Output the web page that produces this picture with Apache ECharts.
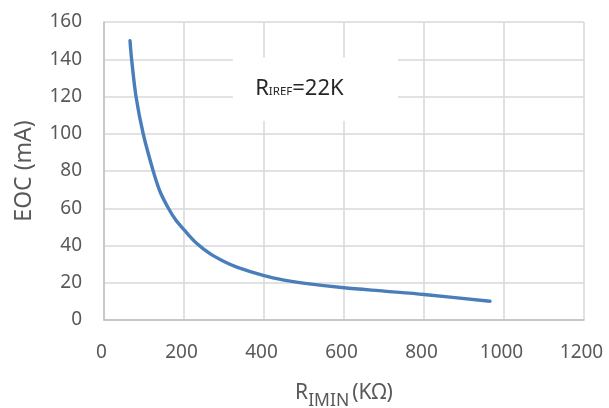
<!DOCTYPE html>
<html>
<head>
<meta charset="utf-8">
<script src="https://cdn.jsdelivr.net/npm/echarts@6/dist/echarts.min.js"></script>
<style>
html,body{margin:0;padding:0;background:#fff;}
#chart{width:609px;height:408px;}
</style>
</head>
<body>
<div id="chart"></div>
<script>
// R_IMIN (kΩ)
var rimin = [65, 69, 80, 98, 123, 140, 161, 180, 200, 230, 265, 300, 332, 400, 450, 498, 600, 700, 800, 965];
// EOC (mA)
var eoc = [150, 140, 120, 100, 80, 69, 60, 53.5, 48.5, 41.5, 35.6, 31.4, 28.4, 23.8, 21.4, 19.8, 17.3, 15.5, 13.7, 10.1];
var xTicks = {min: 0, max: 1200, step: 200};
var yTicks = {min: 0, max: 160, step: 20};
// annotation box (data coordinates)
var noteBox = [[322, 141], [735, 107]];
var noteText = ['R', 'IREF', '=22K'];

var data = rimin.map(function (x, i) { return [x, eoc[i]]; });
var chart = echarts.init(document.getElementById('chart'), null, {renderer: 'canvas'});
var font = 'Noto Sans';
chart.setOption({
  animation: false,
  backgroundColor: '#ffffff',
  grid: {left: 104, right: 25, top: 22, bottom: 88, containLabel: false, outerBoundsMode: 'none'},
  xAxis: {
    type: 'value', min: xTicks.min, max: xTicks.max, interval: xTicks.step,
    axisLine: {show: true, lineStyle: {color: '#bfbfbf', width: 1.5}},
    axisTick: {show: false},
    splitLine: {show: true, lineStyle: {color: '#d9d9d9', width: 1.5}},
    axisLabel: {color: '#595959', fontSize: 19, fontFamily: font, margin: 23,
      padding: [0, 5, 0, 0],
      formatter: function (v) { return String(v); }},
    name: '{a|R}{b|IMIN}{a|(KΩ)}',
    nameLocation: 'middle', nameGap: 56,
    nameTextStyle: {
      color: '#595959', fontFamily: font,
      rich: {
        a: {fontSize: 21, fontFamily: font, color: '#595959', lineHeight: 25},
        b: {fontSize: 17.5, fontFamily: font, color: '#595959', padding: [16, 3, 0, 0]}
      }
    }
  },
  yAxis: {
    type: 'value', min: yTicks.min, max: yTicks.max, interval: yTicks.step,
    axisLine: {show: true, lineStyle: {color: '#bfbfbf', width: 1.5}},
    axisTick: {show: false},
    splitLine: {show: true, lineStyle: {color: '#d9d9d9', width: 1.5}},
    axisLabel: {color: '#595959', fontSize: 19, fontFamily: font, margin: 22},
    name: 'EOC (mA)', nameLocation: 'middle', nameGap: 68,
    nameTextStyle: {color: '#595959', fontSize: 23, fontFamily: font}
  },
  series: [{
    type: 'line',
    data: data,
    smooth: 0.3,
    symbol: 'none',
    lineStyle: {color: '#4a7ebb', width: 3.4, cap: 'round'},
    markArea: {
      silent: true,
      itemStyle: {color: '#ffffff'},
      label: {
        show: true, position: 'inside', offset: [-16, 0],
        formatter: '{a|' + noteText[0] + '}{b|' + noteText[1] + '}{a|' + noteText[2] + '}',
        rich: {
          a: {fontSize: 22, fontFamily: font, color: '#262626', lineHeight: 26},
          b: {fontSize: 11.5, fontFamily: font, color: '#262626', padding: [5, 0, 0, 0]}
        }
      },
      data: [[{coord: noteBox[0]}, {coord: noteBox[1]}]]
    }
  }]
});
</script>
</body>
</html>
